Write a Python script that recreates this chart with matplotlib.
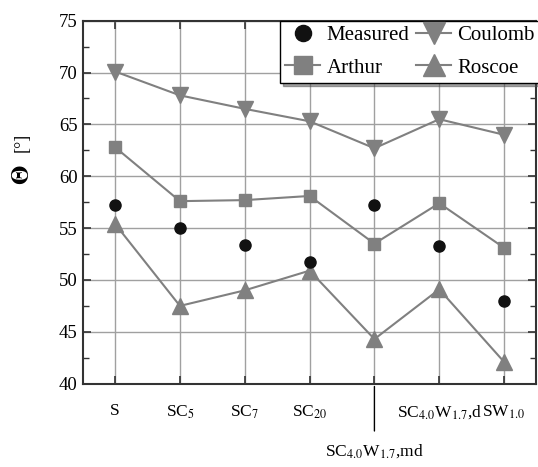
import matplotlib
matplotlib.use("Agg")
import matplotlib.pyplot as plt

plt.rcParams['font.family'] = ['Liberation Serif', 'DejaVu Serif']
plt.rcParams['mathtext.fontset'] = 'stix'

labels = ['S', 'SC$_5$', 'SC$_7$', 'SC$_{20}$', 'SC$_{4.0}$W$_{1.7}$,md',
          'SC$_{4.0}$W$_{1.7}$,d', 'SW$_{1.0}$']
measured = [57.2, 55.0, 53.4, 51.7, 57.2, 53.3, 48.0]
arthur = [62.8, 57.6, 57.7, 58.1, 53.5, 57.4, 53.1]
coulomb = [70.1, 67.8, 66.5, 65.3, 62.7, 65.5, 64.0]
roscoe = [55.4, 47.5, 49.0, 50.9, 44.3, 49.1, 42.1]

x = list(range(len(labels)))
grey = '#808080'

fig = plt.figure(figsize=(5.38, 4.67), dpi=100)
ax = fig.add_axes([0.1537, 0.1784, 0.8435, 0.7773])

ax.plot(x, measured, 'o', color='#111111', ms=8, label='Measured', zorder=4)
ax.plot(x, arthur, 's-', color=grey, ms=9, lw=1.5, label='Arthur', zorder=3)
ax.plot(x, coulomb, 'v-', color=grey, ms=11, lw=1.5, label='Coulomb', zorder=3)
ax.plot(x, roscoe, '^-', color=grey, ms=11, lw=1.5, label='Roscoe', zorder=3)

ax.set_xlim(-0.5, 6.5)
ax.set_ylim(40, 75)
ax.set_yticks(range(40, 76, 5))
ax.set_yticks([42.5 + 5 * i for i in range(7)], minor=True)
ax.set_xticks(x)
ax.set_xticklabels(labels)
ax.grid(True, color='#a0a0a0', lw=1.0)
ax.set_axisbelow(True)
ax.tick_params(which='both', direction='in', right=True, top=True,
               labelsize=13.5, color='#333333')
ax.tick_params(axis='x', labelsize=12.5)
ax.tick_params(which='major', length=6, width=1.2)
ax.tick_params(which='minor', length=4, width=1.0)
ax.tick_params(axis='x', pad=14)
for s in ax.spines.values():
    s.set_linewidth(1.5)
    s.set_color('#333333')

# push the md label down with a leader line
lab = ax.get_xticklabels()[4]
lab.set_y(-0.108)
ax.annotate('', xy=(4, 0), xycoords=('data', 'axes fraction'),
            xytext=(4, -0.138), textcoords=('data', 'axes fraction'),
            arrowprops=dict(arrowstyle='-', color='black', lw=1.0))

fig.text(0.042, 0.625, r'$\mathbf{\Theta}$', rotation=90, fontsize=18,
         ha='center', va='center')
fig.text(0.042, 0.695, '[°]', rotation=90, fontsize=13,
         ha='center', va='center')

leg = ax.legend(ncol=2, loc='upper right', fontsize=15, frameon=True,
                fancybox=False, shadow=True, handlelength=1.7,
                handletextpad=0.3, columnspacing=0.3, borderpad=0.25,
                labelspacing=0.6, borderaxespad=0.0, markerscale=1.45,
                bbox_to_anchor=(1.008, 1.0))
leg.get_frame().set_edgecolor('black')
leg.get_frame().set_linewidth(1.0)

fig.savefig('out.png', dpi=100)
